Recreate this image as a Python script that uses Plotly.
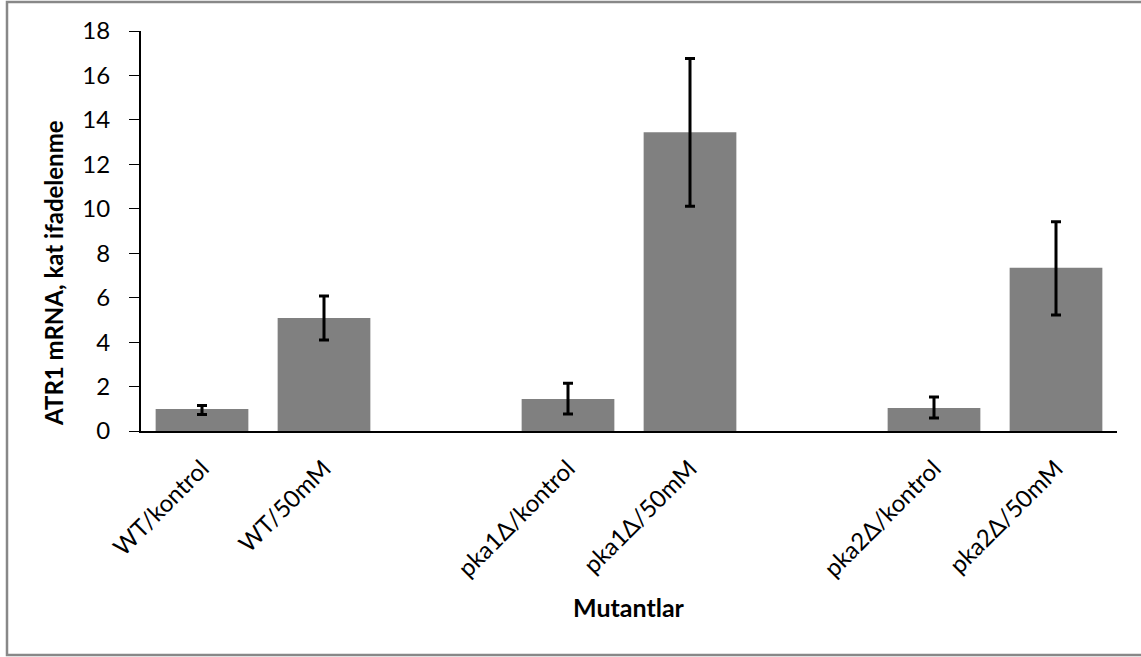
import plotly.graph_objects as go

categories = ["WT/kontrol", "WT/50mM", "pka1Δ/kontrol", "pka1Δ/50mM", "pka2Δ/kontrol", "pka2Δ/50mM"]
slot_order = ["WT/kontrol", "WT/50mM", " ", "pka1Δ/kontrol", "pka1Δ/50mM", "  ", "pka2Δ/kontrol", "pka2Δ/50mM"]
values = [0.99, 5.09, 1.44, 13.44, 1.04, 7.35]
err_plus = [0.16, 0.98, 0.71, 3.32, 0.49, 2.07]
err_minus = [0.25, 0.99, 0.67, 3.33, 0.45, 2.13]
y_ticks = [0, 2, 4, 6, 8, 10, 12, 14, 16, 18]

W, H = 1141, 657
ML, MR, MT, MB = 141, 24, 31, 226
pw, ph = W - ML - MR, H - MT - MB

fig = go.Figure()
fig.add_trace(go.Bar(
    x=categories, y=values,
    marker=dict(color="#808080", line=dict(width=0)),
    error_y=dict(type="data", symmetric=False, array=err_plus, arrayminus=err_minus,
                 color="black", thickness=3, width=5),
    showlegend=False,
))

fig.update_layout(
    width=W, height=H,
    margin=dict(l=ML, r=MR, t=MT, b=MB, pad=0),
    paper_bgcolor="white", plot_bgcolor="white",
    bargap=0.24,
    font=dict(family="Lato", size=24, color="black"),
    xaxis=dict(type="category", categoryorder="array", categoryarray=slot_order,
               range=[-0.5, 7.5], showline=True, linecolor="black", linewidth=2,
               ticks="", tickangle=-45, ticklabelstandoff=12,
               tickfont=dict(family="Lato", size=24), showgrid=False, zeroline=False),
    yaxis=dict(range=[0, 18], tickvals=y_ticks, showline=True, linecolor="black", linewidth=2,
               ticks="outside", ticklen=10, tickwidth=1, tickcolor="black",
               ticklabelstandoff=14, tickfont=dict(family="Lato", size=24),
               showgrid=False, zeroline=False),
    shapes=[dict(type="rect", xref="paper", yref="paper",
                 x0=(7 - ML) / pw, x1=(1146 - ML) / pw,
                 y0=(MT + ph - 655) / ph, y1=(MT + ph - 2) / ph,
                 line=dict(color="#888888", width=2.5), fillcolor="rgba(0,0,0,0)", layer="below")],
    annotations=[
        dict(text="<b>ATR1 mRNA, kat ifadelenme</b>", xref="paper", yref="paper",
             x=(53 - ML) / pw, y=(MT + ph - 273) / ph, textangle=-90, showarrow=False,
             font=dict(family="Lato", size=24), xanchor="center", yanchor="middle"),
        dict(text="<b>Mutantlar</b>", xref="paper", yref="paper",
             x=(629 - ML) / pw, y=(MT + ph - 607) / ph, showarrow=False,
             font=dict(family="Lato", size=25), xanchor="center", yanchor="middle"),
    ],
)

fig.write_html("out.html")
